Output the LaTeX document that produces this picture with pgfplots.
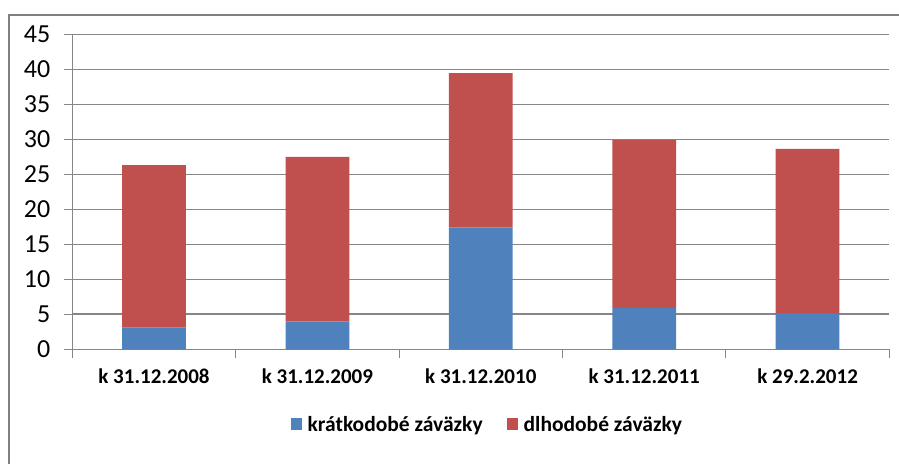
\documentclass[border=0pt]{standalone}
\usepackage{fontspec}
\setmainfont{Carlito}
\usepackage{pgfplots}
\pgfplotsset{compat=1.18}
\definecolor{cblue}{HTML}{4F81BD}
\definecolor{cred}{HTML}{C0504D}
\definecolor{cgrid}{RGB}{134,134,134}
\definecolor{cframe}{RGB}{128,128,128}
\begin{document}
\begin{tikzpicture}[x=1pt,y=1pt]
\useasboundingbox (0,0) rectangle (899,463);
\begin{axis}[
  at={(72.3pt,113.7pt)}, anchor=south west,
  scale only axis, width=817pt, height=315.3pt,
  ybar stacked, bar width=0.39,
  xmin=-0.5, xmax=4.5, ymin=0, ymax=45,
  ytick={0,5,...,45},
  xtick={-0.5,0.5,...,4.5}, xticklabels={},
  extra x ticks={0,1,2,3,4},
  extra x tick labels={k 31.12.2008,k 31.12.2009,k 31.12.2010,k 31.12.2011,k 29.2.2012},
  extra x tick style={major tick length=0pt, tick label style={font=\fontsize{21}{21}\selectfont\bfseries, anchor=center, yshift=-27pt}},
  axis x line*=bottom, axis y line*=left,
  axis line style={cgrid, line width=1pt},
  tick style={cgrid, line width=1pt},
  tick align=outside, major tick length=8.5pt,
  ymajorgrids, grid style={cgrid, line width=1pt},
  y tick label style={font=\fontsize{26}{26}\selectfont, xshift=-10pt},
  /pgf/number format/assume math mode=true,
  legend style={at={(0.508,-0.238)}, anchor=center, draw=none, legend columns=2,
    font=\fontsize{21.5}{21.5}\selectfont\bfseries,
    /tikz/every odd column/.append style={column sep=4pt},
    /tikz/every even column/.append style={column sep=22pt}},
  legend image code/.code={\fill[#1] (0pt,-6pt) rectangle (11pt,6pt);},
]
\addplot[fill=cblue, draw=none] coordinates {(0,3.1) (1,4.0) (2,17.4) (3,5.9) (4,5.1)};
\addplot[fill=cred, draw=none] coordinates {(0,23.2) (1,23.45) (2,22.0) (3,24.0) (4,23.5)};
\legend{krátkodobé záväzky, dlhodobé záväzky}
\draw[cgrid, line width=2pt] (axis cs:-0.5,5) -- (axis cs:4.5,5);
\end{axis}
\draw[cframe, line width=2.3pt] (9,-5) -- (9,448) -- (905,448);
\end{tikzpicture}
\end{document}
